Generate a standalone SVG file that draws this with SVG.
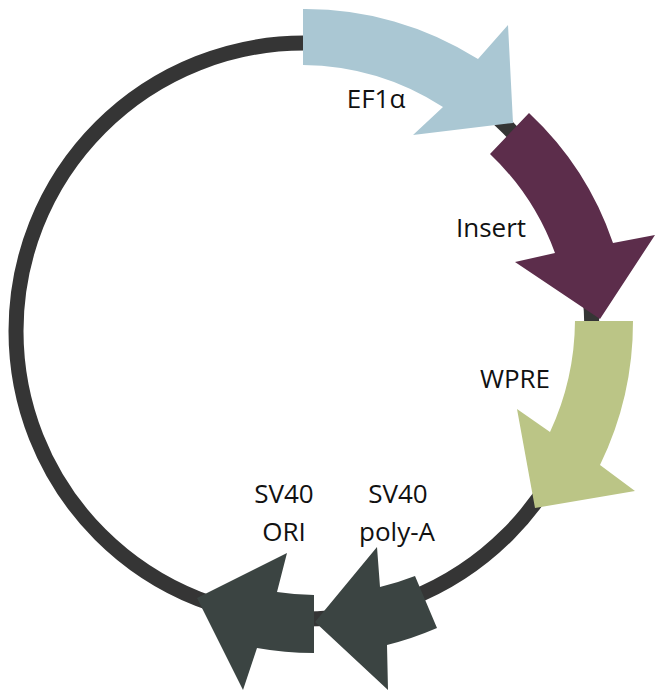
<svg xmlns="http://www.w3.org/2000/svg" width="664" height="696" viewBox="0 0 664 696">
<style>
.lbl{font-family:"Open Sans","Liberation Sans",sans-serif;font-size:26px;fill:#111;text-anchor:middle}
.backbone{fill:none;stroke:#353535;stroke-width:15}
</style>
<rect x="0" y="0" width="664" height="696" fill="#ffffff"/>
<g id="connectors">
<circle class="backbone" cx="304" cy="331" r="288"/>
</g>
<g id="ef1a">
<path fill="#AAC7D3" d="M303 9 A322 322 0 0 1 478 59 L508 25 L513 123 L413 135 L443 107 A264 264 0 0 0 303 65 Z"/>
<text class="lbl" x="376" y="108">EF1α</text>
</g>
<g id="insert">
<path fill="#5C2D4B" d="M529 113 A318 318 0 0 1 613 243 L655 235 L600 319 L515 262 L555 253 A260 260 0 0 0 490 154 Z"/>
<text class="lbl" x="491" y="237">Insert</text>
</g>
<g id="wpre">
<path fill="#BBC586" d="M633 321 A327 327 0 0 1 600 465 L635 491 L535 508 L517 409 L550 432 A268 268 0 0 0 575 321 Z"/>
<text class="lbl" x="515" y="388">WPRE</text>
</g>
<g id="sv40polya">
<path fill="#3B4442" d="M415 576 L437 628 A325 325 0 0 1 387 645 L388 690 L315 622 L377 547 L380 587 A267 267 0 0 0 415 576 Z"/>
<text class="lbl" x="398" y="503">SV40</text>
<text class="lbl" x="397" y="541">poly-A</text>
</g>
<g id="sv40ori">
<path fill="#3B4442" d="M314 595 L314 653 A322 322 0 0 1 257 648 L243 690 L197 598 L287 553 L277 592 A263 263 0 0 0 314 595 Z"/>
<text class="lbl" x="284" y="503">SV40</text>
<text class="lbl" x="284" y="541">ORI</text>
</g>
</svg>
